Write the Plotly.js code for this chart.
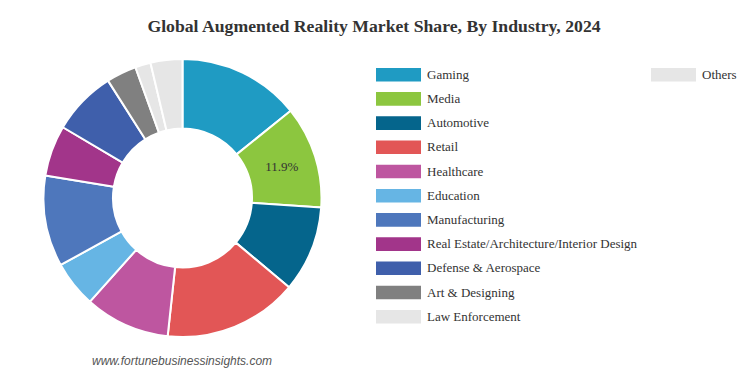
<!DOCTYPE html>
<html>
<head>
<meta charset="utf-8">
<script src="https://cdn.plot.ly/plotly-3.0.1.min.js"></script>
<style>html,body{margin:0;padding:0;background:#fff;}#chart{width:748px;height:374px;}</style>
</head>
<body>
<div id="chart"></div>
<script>
// Data
const categories = ["Gaming","Media","Automotive","Retail","Healthcare","Education","Manufacturing",
  "Real Estate/Architecture/Interior Design","Defense & Aerospace","Art & Designing","Law Enforcement","Others"];
const shares = [14.2, 11.9, 10.0, 15.6, 9.9, 5.4, 10.6, 5.9, 7.5, 3.5, 1.8, 3.7];
const labelledCategories = ["Media"];
const colors = ["#1f9bc3","#8cc63f","#05658c","#e25656","#be56a0","#66b5e4","#4e77bc",
  "#a2358a","#3f5fab","#808080","#e6e6e6","#e6e6e6"];

const W = 748, H = 374;
const sliceText = categories.map((c, i) => labelledCategories.includes(c) ? shares[i].toFixed(1) + "%" : "");

const trace = {
  type: "pie",
  labels: categories,
  values: shares,
  text: sliceText,
  textinfo: "text",
  texttemplate: "%{text}",
  textposition: "inside",
  insidetextorientation: "horizontal",
  textfont: {family: "Liberation Serif, serif", size: 13, color: "#333333"},
  sort: false,
  direction: "clockwise",
  rotation: 0,
  hole: 0.5,
  marker: {colors: colors, line: {color: "#ffffff", width: 2}},
  domain: {x: [43.5 / W, 321.5 / W], y: [37 / H, 315 / H]},
  showlegend: false,
  hoverinfo: "skip"
};

// Custom legend (column layout with wrap after 11 rows)
const shapes = [], annotations = [];
const rowsPerCol = 11;
categories.forEach((c, i) => {
  const col = Math.floor(i / rowsPerCol), row = i % rowsPerCol;
  const x0 = col === 0 ? 376 : 651;
  const yc = 74.7 + row * 24.2;
  shapes.push({type: "rect", xref: "paper", yref: "paper",
    x0: x0 / W, x1: (x0 + 45) / W, y0: 1 - (yc + 6.8) / H, y1: 1 - (yc - 6.8) / H,
    fillcolor: colors[i], line: {width: 0}});
  annotations.push({xref: "paper", yref: "paper", x: (x0 + 49) / W, y: 1 - (yc - 0.5) / H,
    xanchor: "left", yanchor: "middle", showarrow: false, text: c,
    font: {family: "Liberation Serif, serif", size: 13, color: "#333333"}});
});
annotations.push({xref: "paper", yref: "paper", x: 90 / W, y: 1 - 361 / H, xanchor: "left", yanchor: "middle",
  showarrow: false, text: "<i>www.fortunebusinessinsights.com</i>",
  font: {family: "Liberation Sans, Arial, sans-serif", size: 12, color: "#555555"}});

const layout = {
  width: W, height: H,
  margin: {l: 0, r: 0, t: 0, b: 0},
  paper_bgcolor: "#ffffff",
  title: {text: "<b>Global Augmented Reality Market Share, By Industry, 2024</b>",
    x: 374 / W, xanchor: "center", y: 1 - 26 / H, yanchor: "middle",
    font: {family: "Liberation Serif, serif", size: 17.7, color: "#333333"}},
  shapes: shapes,
  annotations: annotations,
  showlegend: false
};

Plotly.newPlot("chart", [trace], layout, {displayModeBar: false, staticPlot: true});
</script>
</body>
</html>
